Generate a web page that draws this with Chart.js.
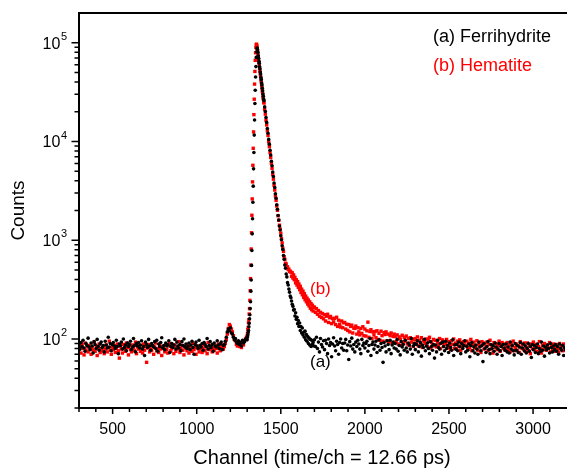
<!DOCTYPE html>
<html><head><meta charset="utf-8">
<script src="https://cdn.jsdelivr.net/npm/chart.js@4.4.0/dist/chart.umd.min.js"></script>
<style>html,body{margin:0;padding:0;background:#fff;}#wrap{width:569px;height:468px;}</style>
</head><body><div id="wrap"><canvas id="c" width="569" height="468"></canvas></div>
<script>
// channel grid of each data segment: start channel and step
const segStart = [300, 1300, 1400, 1700];
const segStep = [6, 2, 4, 6];

// (a) Ferrihydrite counts
const ferriLow = [
88,79,92,84,97,81,75,90,86,102,83,78,
91,85,72,94,88,80,99,84,77,89,93,82,
86,74,95,87,81,104,83,90,76,88,92,85,
80,97,84,71,89,86,93,79,100,82,87,76,
91,84,88,95,78,83,101,86,74,90,85,92,
81,87,96,79,84,68,93,88,82,99,85,77,
90,86,83,94,80,97,75,89,84,92,103,81,
86,78,91,85,88,96,73,84,90,82,87,99,
79,93,85,81,88,76,94,86,100,83,89,80,
84,91,78,87,95,82,70,88,93,85,80,97,
86,83,90,77,92,88,84,101,79,86,94,82,
88,75,91,85,83,96,87,80,89,93,78,86,
88,95,104,118,126,121,130,115,112,104,98,101,93,90,96,88,92,85,97,91,94,99,102];
const ferriPeak = [98,105,110,116,122,133,144,160,176,203,238,305,395,556,788,1160,1650,2420,3530,5280,7720,11600,16500,24200,33000,44900,57300,71000,81000,87500,88300,84800,79800,73800,69500,65000,61900,57200,54600,50400,48100,44500,42400,39100,37400,34500,32600,30300,28700,26700];
const ferriDecay = [25900,22400,20100,17500,15600,13500,12100,10500,9400,8150,7300,6300,5680,4900,4420,3800,3420,2950,2660,2290,2060,1780,1600,1390,1270,1110,1010,880,805,700,640,560,520,455,425,372,352,320,298,272,
262,242,225,214,196,199,171,184,158,166,143,154,134,145,122,134,115,129,110,117,104,120,98,111,95,106,90,102,87,99,84,97,88,92,85];
const ferriTail = [
98,84,104,80,93,74,101,88,83,96, 78,97,90,71,100,86,92,66,89,103,
85,76,95,88,70,92,100,81,90,77, 91,99,76,87,62,94,85,102,79,88,
74,93,84,97,89,79,71,99,86,91, 81,90,95,75,86,101,68,88,93,79,
87,95,73,84,98,77,90,82,58,92, 85,74,96,88,78,97,71,87,93,81,
90,79,99,75,86,69,94,83,88,77, 97,81,74,91,87,79,101,70,85,90,
78,88,96,74,84,92,67,87,82,99, 76,85,91,80,71,94,84,77,88,64,
87,74,97,82,79,90,70,93,84,76, 95,80,86,73,91,82,77,98,68,87,
79,88,76,93,84,71,90,80,86,96, 74,84,77,89,66,86,92,76,83,72,
87,79,70,93,83,76,86,59,90,80, 73,84,94,78,71,88,80,86,75,91,
83,70,79,90,76,84,68,88,81,77, 89,74,83,72,93,79,86,76,69,90,
77,86,73,83,92,70,81,89,76,85, 72,80,90,75,84,65,88,78,86,73,
82,89,71,80,75,93,77,85,67,83, 78,87,80,72,90,82,74,85,78,88,
75,84,70,89,80,77,86,68,82,78,85];

// (b) Hematite counts
const hemaLow = [
78,84,72,88,80,69,91,76,83,74,86,79,
70,82,77,93,75,85,68,81,89,73,80,76,
84,71,79,87,74,82,95,77,70,83,78,86,
73,81,89,76,64,84,79,72,88,80,75,91,
82,69,85,78,74,87,81,76,93,71,83,79,
86,75,80,72,89,77,84,58,81,88,74,79,
77,85,70,83,91,76,80,73,86,79,68,84,
81,74,88,78,72,85,90,76,80,83,71,87,
75,82,79,94,73,80,86,77,69,84,81,76,
88,72,83,79,75,90,78,82,70,85,80,74,
79,86,73,81,88,76,83,71,92,78,84,80,
74,82,77,85,80,72,89,83,76,81,87,79,
84,90,98,112,128,140,135,126,118,108,99,96,88,85,91,84,89,82,93,87,95,100,104];
const hemaPeak = [107,114,124,131,146,157,179,203,246,308,409,560,815,1190,1790,2620,3900,5740,8530,12500,18700,26800,38100,51200,66300,79200,89300,95400,96800,93100,88300,82000,76900,71400,67000,62900,59100,54800,51500,48200,45400,42000,39900,37000,34900,32200,30700,28300,27000,25000];
const hemaDecay = [24500,21200,18900,16400,14700,12800,11500,9900,8850,7700,6880,5980,5340,4640,4150,3600,3220,2800,2530,2220,2010,1770,1590,1420,1300,
1180,1040,940,830,770,680,640,585,575,540,538,505,510,482,486,
475,432,468,414,446,398,421,370,398,352,381,334,360,316,341,296,320,280,305,264,288,250,272,238,259,226,248,216,238,205,228,198,220,192,210];
const hemaTail = [
210,186,203,178,194,170,186,165,181,160, 176,152,170,178,147,164,169,143,161,149,
162,140,166,134,155,141,132,152,130,146, 147,126,141,122,140,118,134,138,115,129,
128,135,112,130,118,110,128,114,133,108, 126,107,121,148,104,119,124,101,118,110,
119,103,121,99,114,97,120,108,95,116, 111,118,96,112,93,108,115,91,106,112,
106,94,110,89,105,100,86,109,93,104, 95,107,89,101,86,103,93,100,84,98,
101,90,105,85,97,89,103,82,96,94, 90,100,84,96,104,81,93,88,99,85,
97,83,93,88,101,80,91,98,84,89, 90,99,81,94,86,78,96,88,100,80,
91,80,95,85,98,77,92,84,94,87, 86,95,79,91,82,99,76,88,93,81,
85,96,77,89,84,73,94,88,79,91, 84,93,76,88,97,79,86,72,92,82,
90,78,85,95,75,87,92,80,89,77, 83,92,78,87,74,91,85,95,76,82,
89,77,86,73,94,81,88,79,91,75, 82,91,76,86,71,89,80,93,78,84,
88,75,84,94,80,72,86,78,90,82, 77,87,81,92,74,85,79,89,75,83,
88,78,73,90,81,85,76,89,82,77,83];

const seriesNames = ['(a) Ferrihydrite', '(b) Hematite'];
const seriesColors = ['#000000', '#ff0000'];
const xTickLabels = ['500', '1000', '1500', '2000', '2500', '3000'];
const yDecades = [2, 3, 4, 5];
const xTitle = 'Channel (time/ch = 12.66 ps)';
const yTitle = 'Counts';
const curveLabels = ['(a)', '(b)'];

function build(segs) {
  const pts = [];
  segs.forEach((arr, k) => arr.forEach((v, i) => pts.push({x: segStart[k] + segStep[k] * i, y: v})));
  return pts;
}

const yMinorValues = [];
for (let e = 1; e <= 5; e++) for (let m = 1; m <= 9; m++) {
  const v = m * Math.pow(10, e);
  if (v >= 20 && v <= 100000) yMinorValues.push(v);
}
const xMinorValues = [];
for (let v = 300; v <= 3100; v += 100) xMinorValues.push(v);

const FONT = "'Liberation Sans', Arial, sans-serif";

const decor = {
  id: 'decor',
  afterDraw(chart) {
    const {ctx, chartArea: a, scales: {x, y}} = chart;
    ctx.save();
    ctx.strokeStyle = '#000';
    ctx.lineWidth = 2;
    ctx.beginPath();
    ctx.moveTo(a.left - 1, a.top); ctx.lineTo(a.right + 2, a.top);
    ctx.moveTo(a.left, a.top); ctx.lineTo(a.left, a.bottom + 1);
    ctx.moveTo(a.left - 1, a.bottom); ctx.lineTo(a.right + 2, a.bottom);
    ctx.stroke();
    ctx.lineWidth = 1.5;
    ctx.beginPath();
    yMinorValues.forEach(v => {
      const py = y.getPixelForValue(v);
      const major = Math.abs(Math.log10(v) - Math.round(Math.log10(v))) < 1e-9;
      ctx.moveTo(a.left, py); ctx.lineTo(a.left - (major ? 7.5 : 4.5), py);
    });
    xMinorValues.forEach(v => {
      const px = x.getPixelForValue(v);
      const major = v % 500 === 0;
      ctx.moveTo(px, a.bottom); ctx.lineTo(px, a.bottom + (major ? 6 : 4));
    });
    ctx.stroke();
    ctx.fillStyle = '#000';
    // x tick labels
    ctx.font = '16px ' + FONT;
    ctx.textAlign = 'center'; ctx.textBaseline = 'middle';
    xTickLabels.forEach(l => ctx.fillText(l, x.getPixelForValue(Number(l)), 430));
    // y decade labels with superscripts
    yDecades.forEach(e => {
      const py = y.getPixelForValue(Math.pow(10, e));
      ctx.font = '11px ' + FONT;
      const ws = ctx.measureText(String(e)).width;
      const right = 67;
      ctx.textAlign = 'left'; ctx.textBaseline = 'middle';
      ctx.fillText(String(e), right - ws, py - 6);
      ctx.font = '16px ' + FONT;
      ctx.textAlign = 'right';
      ctx.fillText('10', right - ws - 0.5, py + 1.5);
    });
    // legend texts
    ctx.font = '18px ' + FONT;
    ctx.textAlign = 'left'; ctx.textBaseline = 'middle';
    ctx.fillStyle = seriesColors[0]; ctx.fillText(seriesNames[0], 433, 37);
    ctx.fillStyle = seriesColors[1]; ctx.fillText(seriesNames[1], 433, 66);
    // curve labels
    ctx.font = '17px ' + FONT;
    ctx.fillStyle = seriesColors[0]; ctx.fillText(curveLabels[0], 310, 362);
    ctx.fillStyle = seriesColors[1]; ctx.fillText(curveLabels[1], 310, 289);
    ctx.restore();
  }
};

new Chart(document.getElementById('c'), {
  type: 'scatter',
  data: {
    datasets: [
      {label: seriesNames[0], data: build([ferriLow, ferriPeak, ferriDecay, ferriTail]),
       pointStyle: 'circle', pointRadius: 1.8, pointBorderWidth: 0,
       backgroundColor: seriesColors[0], borderColor: seriesColors[0]},
      {label: seriesNames[1], data: build([hemaLow, hemaPeak, hemaDecay, hemaTail]),
       pointStyle: 'rect', pointRadius: 2.4, pointBorderWidth: 0,
       backgroundColor: seriesColors[1], borderColor: seriesColors[1]}
    ]
  },
  options: {
    responsive: false, animation: false, devicePixelRatio: 1,
    layout: {padding: {top: 13, right: 0, left: 0, bottom: 0}},
    plugins: {legend: {display: false}, tooltip: {enabled: false}},
    scales: {
      x: {
        type: 'linear', min: 300, max: 3190,
        grid: {display: false, drawTicks: false}, border: {display: false},
        ticks: {display: false},
        title: {display: true, text: xTitle, color: '#000', padding: {top: 0, bottom: 0},
          font: {family: FONT, size: 20, lineHeight: 1}},
        afterFit: s => { s.height = 60; }
      },
      y: {
        type: 'logarithmic', min: 20, max: 200000,
        grid: {display: false, drawTicks: false}, border: {display: false},
        ticks: {display: false},
        title: {display: true, text: yTitle, color: '#000', padding: {top: 9, bottom: 0},
          font: {family: FONT, size: 19, lineHeight: 1}},
        afterFit: s => { s.width = 79; }
      }
    }
  },
  plugins: [decor]
});
</script></body></html>
